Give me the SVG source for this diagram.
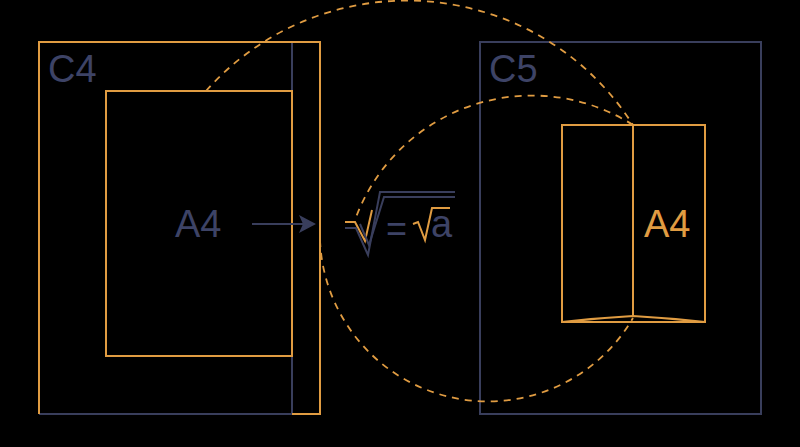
<svg xmlns="http://www.w3.org/2000/svg" width="800" height="447" viewBox="0 0 800 447">
  <style>
    .or { fill: none; stroke: #E09C42; stroke-width: 2; }
    .nv { fill: none; stroke: #393E5C; stroke-width: 2; }
    .dash { fill: none; stroke: #E09C42; stroke-width: 1.8; stroke-dasharray: 7 6; }
    .lbl { font-family: "Liberation Sans", Arial, sans-serif; font-size: 38px; }
    .tn { fill: #3D4366; }
    .to { fill: #E09C42; }
  </style>
  <rect x="0" y="0" width="800" height="447" fill="#000000"/>

  <g id="c4">
    <path class="nv" d="M39 414 L292 414 L292 42"/>
    <path class="or" d="M292 414 L320 414 L320 42 L39 42 L39 414"/>
    <text class="lbl tn" x="48" y="82">C4</text>
  </g>

  <g id="a4-left">
    <rect class="or" x="106" y="91" width="186" height="265"/>
    <text class="lbl tn" x="175" y="237">A4</text>
  </g>

  <g id="c5">
    <rect class="nv" x="480" y="42" width="281" height="372"/>
    <text class="lbl tn" x="489" y="82">C5</text>
  </g>

  <g id="guides">
    <path class="dash" d="M206 91 A268 268 0 0 1 633 125"/>
    <path class="dash" d="M633 125 A188 188 0 0 0 355 220"/>
    <path class="dash" d="M320 240 A168 168 0 0 0 633 318"/>
  </g>

  <g id="a4-right">
    <rect class="or" x="562" y="125" width="143" height="197"/>
    <path class="or" d="M633 125 L633 317"/>
    <path class="or" stroke-width="1.5" d="M562 322 Q598 318 633 316 Q668 318 705 322"/>
    <text class="lbl to" x="644" y="237">A4</text>
  </g>

  <g id="formula">
    <path class="or" d="M345 222 L355 222 L365 241 L372 210"/>
    <path class="nv" d="M345 228 L356 228 L368 255 L380 192 L455 192"/>
    <path class="nv" d="M360 224 L369 245 L384 197 L455 197"/>
    <text class="tn" x="386" y="241" font-family="Liberation Sans, Arial, sans-serif" font-size="36">=</text>
    <path class="or" d="M413 224 L418 222 L425 240 L432 208 L450 208"/>
    <text class="lbl tn" x="431" y="237">a</text>
  </g>

  <g id="connectors">
    <path class="nv" d="M252 224 L304 224"/>
    <path d="M299 215 L316 224 L299 233 L303 224 Z" fill="#393E5C"/>
  </g>
</svg>
